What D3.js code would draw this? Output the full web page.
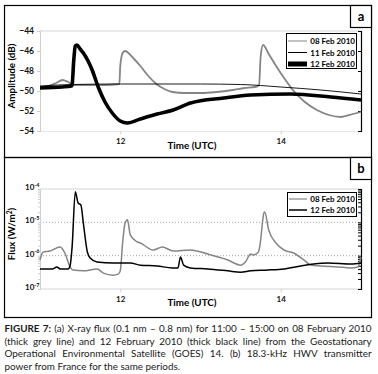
<!DOCTYPE html>
<html><head><meta charset="utf-8">
<script src="https://cdn.jsdelivr.net/npm/d3@7"></script>
<style>
html,body{margin:0;padding:0;background:#fff;}
svg{display:block;font-family:Lato,"Liberation Sans",sans-serif;}
</style></head>
<body>
<svg id="c" width="378" height="374"></svg>
<script>
// ---------- DATA ----------
// Panel (a): amplitude (dB)
const tA08 = [11.00,11.10,11.20,11.28,11.35,11.42,11.60,11.80,11.99,12.00,12.03,12.06,12.15,12.25,12.35,12.45,12.55,12.65,12.80,13.00,13.20,13.40,13.55,13.68,13.73,13.75,13.78,13.85,13.95,14.05,14.15,14.30,14.45,14.60,14.75,14.90,15.00];
const vA08 = [-49.6,-49.5,-49.2,-48.9,-49.1,-49.4,-49.4,-49.4,-49.3,-47.5,-46.2,-46.0,-46.6,-47.5,-48.5,-49.3,-49.8,-50.1,-50.2,-50.2,-50.1,-49.9,-49.7,-49.6,-49.4,-46.5,-45.4,-46.3,-47.6,-48.8,-49.9,-51.1,-51.9,-52.4,-52.6,-52.3,-52.1];
const tA11 = [11.00,11.40,12.00,13.00,13.50,14.00,14.50,15.00];
const vA11 = [-49.5,-49.35,-49.3,-49.3,-49.35,-49.6,-49.9,-50.3];
const tA12 = [11.00,11.275,11.39,11.40,11.42,11.44,11.46,11.50,11.54,11.65,11.725,11.81,11.90,12.00,12.09,12.25,12.46,12.66,12.875,13.29,13.625,14.125,14.625,15.00];
const vA12 = [-49.7,-49.6,-49.5,-49.4,-47.0,-45.5,-45.4,-45.8,-46.2,-47.9,-49.6,-51.1,-52.2,-53.0,-53.2,-52.8,-52.3,-51.9,-51.2,-50.7,-50.4,-50.3,-50.6,-50.9];
const ticksAY = [-54,-52,-50,-48,-46,-44];
const ticksX = [12,14];
const legendA = ["08 Feb 2010","11 Feb 2010","12 Feb 2010"];

// Panel (b): X-ray flux (W/m^2)
const tB08 = [11.00,11.04,11.125,11.25,11.31,11.375,11.41,11.54,11.71,11.79,11.91,11.975,12.00,12.03,12.06,12.09,12.125,12.21,12.25,12.41,12.525,12.66,12.875,13.09,13.34,13.50,13.56,13.625,13.66,13.72,13.74,13.79,13.80,13.85,13.94,14.04,14.16,14.29,14.375,14.50,14.71,14.875,14.96,15.00];
const vB08 = [7.4e-7,1.29e-6,1.38e-6,1.82e-6,1.2e-6,4.6e-7,3.7e-7,3.5e-7,4.0e-7,3.0e-7,2.6e-7,2.8e-7,3.5e-7,2.5e-6,9.5e-6,1.2e-5,4.2e-6,2.6e-6,2.4e-6,1.48e-6,1.82e-6,1.38e-6,1.48e-6,1.12e-6,7.4e-7,5.2e-7,6.5e-7,1.12e-6,1.05e-6,1.26e-6,2.0e-6,1.9e-5,2.04e-5,5.9e-6,2.4e-6,1.48e-6,1.2e-6,7.4e-7,5.2e-7,4.9e-7,4.6e-7,4.3e-7,4.6e-7,9.1e-7];
const tB12 = [11.00,11.16,11.21,11.25,11.35,11.375,11.40,11.44,11.475,11.51,11.54,11.59,11.625,11.71,11.91,12.125,12.25,12.46,12.65,12.72,12.75,12.79,12.875,13.09,13.34,13.50,13.625,13.84,14.04,14.25,14.41,14.59,14.875,15.00];
const vB12 = [4.0e-7,4.0e-7,4.6e-7,4.0e-7,4.0e-7,5.0e-7,1.8e-6,8.3e-5,3.8e-5,3.3e-5,9.5e-6,1.29e-6,8.5e-7,6.5e-7,6.0e-7,6.0e-7,5.2e-7,4.9e-7,4.3e-7,4.3e-7,9.1e-7,5.2e-7,4.3e-7,4.0e-7,3.5e-7,3.2e-7,3.5e-7,3.7e-7,4.0e-7,4.9e-7,5.6e-7,6.0e-7,5.6e-7,6.0e-7];
const ticksBY = [1e-7,1e-6,1e-5,1e-4];
const tickBExp = ["-7","-6","-5","-4"];
const legendB = ["08 Feb 2010","12 Feb 2010"];

const captionLines = [
  ["FIGURE 7:", " (a) X-ray flux (0.1 nm \u2013 0.8 nm) for 11:00 \u2013 15:00 on 08 February 2010"],
  ["", "(thick grey line) and 12 February 2010 (thick black line) from the Geostationary"],
  ["", "Operational Environmental Satellite (GOES) 14. (b) 18.3-kHz HWV transmitter"],
  ["", "power from France for the same periods."]
];

// ---------- DRAW ----------
const svg = d3.select("#c");
const GRAY = "#858585";
const x = d3.scaleLinear().domain([11,15]).range([40,361]);
const ya = d3.scaleLinear().domain([-54,-44]).range([131,31]);
const yb = d3.scaleLog().domain([1e-7,1e-4]).range([289,189]);

// panel frames
svg.append("rect").attr("x",4.5).attr("y",5.5).attr("width",367).attr("height",152).attr("fill","none").attr("stroke","#000").attr("stroke-width",1.2);
svg.append("rect").attr("x",4.5).attr("y",157.5).attr("width",367).attr("height",160).attr("fill","none").attr("stroke","#000").attr("stroke-width",1.2);

function labelBox(y0,h,txt){
  svg.append("rect").attr("x",350.5).attr("y",y0).attr("width",21).attr("height",h).attr("fill","#fff").attr("stroke","#000").attr("stroke-width",1.2);
  svg.append("text").attr("x",361).attr("y",y0+h/2+4.5).attr("text-anchor","middle").attr("font-weight","bold").attr("font-size",13).text(txt);
}

// ----- Panel a -----
const ga = svg.append("g");
ga.append("line").attr("x1",40).attr("x2",361).attr("y1",ya(-44)).attr("y2",ya(-44)).attr("stroke","#d4d4d4");
ga.append("line").attr("x1",40).attr("x2",361).attr("y1",ya(-54)+0.5).attr("y2",ya(-54)+0.5).attr("stroke","#e6e6e6");
// left axis
const axA = ga.append("g").attr("transform","translate(40,0)").call(d3.axisLeft(ya).tickValues(ticksAY).tickSize(3).tickFormat(d3.format("d")));
axA.select(".domain").attr("stroke","#cfcfcf");
axA.selectAll(".tick line").attr("stroke","#cfcfcf");
axA.selectAll("text").attr("font-family","Lato").attr("font-weight","bold").attr("font-size",8.5).attr("fill","#111").attr("x",-6).text(d=>d3.format("d")(d).replace("-","-"));
// right axis
const axA2 = ga.append("g").attr("transform","translate(361,0)").call(d3.axisLeft(ya).tickValues(ticksAY).tickSize(3).tickFormat(""));
axA2.select(".domain").attr("stroke","#000").attr("stroke-width",1.2);
axA2.selectAll(".tick line").attr("stroke","#000");
// bottom axis
const axAx = ga.append("g").attr("transform",`translate(0,${ya(-54)})`).call(d3.axisBottom(x).tickValues(ticksX).tickSize(3).tickFormat(d3.format("d")));
axAx.select(".domain").remove();
axAx.selectAll(".tick line").attr("stroke","#cfcfcf");
axAx.selectAll("text").attr("font-family","Lato").attr("font-weight","bold").attr("font-size",8).attr("fill","#111").attr("dy","0.9em");
ga.append("text").attr("x",192).attr("y",149).attr("text-anchor","middle").attr("font-weight","bold").attr("font-size",9.8).text("Time (UTC)");
ga.append("text").attr("transform","translate(15,76) rotate(-90)").attr("text-anchor","middle").attr("font-weight","bold").attr("font-size",9.8).text("Amplitude (dB)");

const lineA = (ts,vs)=>d3.line().x((d,i)=>x(ts[i])).y((d,i)=>ya(vs[i])).curve(d3.curveMonotoneX)(vs);
ga.append("path").attr("d",lineA(tA08,vA08)).attr("fill","none").attr("stroke",GRAY).attr("stroke-width",1.8);
ga.append("path").attr("d",lineA(tA11,vA11)).attr("fill","none").attr("stroke","#000").attr("stroke-width",0.9);
ga.append("path").attr("d",lineA(tA12,vA12)).attr("fill","none").attr("stroke","#000").attr("stroke-width",3.6);

// legend a
const lgA = ga.append("g");
lgA.append("rect").attr("x",286.5).attr("y",33.5).attr("width",70).attr("height",35).attr("fill","#fff").attr("stroke","#000");
const lgAStyles = [[GRAY,1],["#000",1],["#000",5]];
legendA.forEach((s,i)=>{
  const yy = 41 + i*11.5;
  lgA.append("line").attr("x1",288).attr("x2",307).attr("y1",yy).attr("y2",yy).attr("stroke",lgAStyles[i][0]).attr("stroke-width",lgAStyles[i][1]);
  lgA.append("text").attr("x",355).attr("y",yy+3).attr("text-anchor","end").attr("font-weight","bold").attr("font-size",8).text(s);
});
labelBox(5.5,22,"a");

// ----- Panel b -----
const gb = svg.append("g");
gb.append("line").attr("x1",40).attr("x2",361).attr("y1",yb(1e-4)).attr("y2",yb(1e-4)).attr("stroke","#d4d4d4");
gb.append("line").attr("x1",40).attr("x2",361).attr("y1",yb(1e-7)).attr("y2",yb(1e-7)).attr("stroke","#d4d4d4");
[1e-5,1e-6].forEach(v=>{
  gb.append("line").attr("x1",40).attr("x2",361).attr("y1",yb(v)).attr("y2",yb(v)).attr("stroke","#a8a8a8").attr("stroke-dasharray","1,2");
});
const minor = yb.ticks();
const axB = gb.append("g").attr("transform","translate(40,0)").call(d3.axisLeft(yb).tickValues(minor).tickSize(2).tickFormat(""));
axB.select(".domain").attr("stroke","#cfcfcf");
axB.selectAll(".tick line").attr("stroke","#cfcfcf");
const axB2 = gb.append("g").attr("transform","translate(361,0)").call(d3.axisLeft(yb).tickValues(minor).tickSize(3).tickFormat(""));
axB2.select(".domain").attr("stroke","#000").attr("stroke-width",1.2);
axB2.selectAll(".tick line").attr("stroke","#000");
ticksBY.forEach((v,i)=>{
  const t = gb.append("text").attr("x",25).attr("y",yb(v)+1).attr("font-weight","bold").attr("font-size",8).attr("fill","#111");
  t.append("tspan").text("10");
  t.append("tspan").attr("dy",-3.5).attr("font-size",5.5).text(tickBExp[i]);
});
const axBx = gb.append("g").attr("transform",`translate(0,${yb(1e-7)})`).call(d3.axisBottom(x).tickValues(ticksX).tickSize(3).tickFormat(d3.format("d")));
axBx.select(".domain").remove();
axBx.selectAll(".tick line").attr("stroke","#cfcfcf");
axBx.selectAll("text").attr("font-family","Lato").attr("font-weight","bold").attr("font-size",8).attr("fill","#111").attr("dy","0.9em");
gb.append("text").attr("x",192).attr("y",306).attr("text-anchor","middle").attr("font-weight","bold").attr("font-size",9.8).text("Time (UTC)");
const fl = gb.append("text").attr("transform","translate(15,234) rotate(-90)").attr("text-anchor","middle").attr("font-weight","bold").attr("font-size",9.8);
fl.append("tspan").text("Flux (W/m");
fl.append("tspan").attr("dy",-3).attr("font-size",6.5).text("2");
fl.append("tspan").attr("dy",3).text(")");

const lineB = (ts,vs)=>d3.line().x((d,i)=>x(ts[i])).y((d,i)=>yb(vs[i])).curve(d3.curveMonotoneX)(vs);
gb.append("path").attr("d",lineB(tB08,vB08)).attr("fill","none").attr("stroke",GRAY).attr("stroke-width",1.5);
gb.append("path").attr("d",lineB(tB12,vB12)).attr("fill","none").attr("stroke","#000").attr("stroke-width",1.5);

const lgB = gb.append("g");
lgB.append("rect").attr("x",287.5).attr("y",192.5).attr("width",69).attr("height",24).attr("fill","#fff").attr("stroke","#000");
const lgBStyles = [[GRAY,1.2],["#000",1.5]];
legendB.forEach((s,i)=>{
  const yy = 199 + i*11;
  lgB.append("line").attr("x1",289).attr("x2",307).attr("y1",yy).attr("y2",yy).attr("stroke",lgBStyles[i][0]).attr("stroke-width",lgBStyles[i][1]);
  lgB.append("text").attr("x",355).attr("y",yy+3).attr("text-anchor","end").attr("font-weight","bold").attr("font-size",8).text(s);
});
labelBox(157.5,22,"b");

// ----- Caption -----
const capW = 367, capX = 4.5;
captionLines.forEach((ln,i)=>{
  const t = svg.append("text").attr("x",capX).attr("y",332+i*12.6).attr("font-size",9.9).attr("fill","#1a1a1a");
  if(ln[0]) t.append("tspan").attr("font-weight","bold").text(ln[0]);
  t.append("tspan").text(ln[1]);
  if(i<captionLines.length-1){
    const w = t.node().getComputedTextLength();
    const full = ln[0]+ln[1];
    const spaces = (full.match(/ /g)||[]).length;
    if(w<capW){ t.attr("word-spacing",(capW-w)/spaces); }
    else { t.attr("textLength",capW).attr("lengthAdjust","spacingAndGlyphs"); }
  }
});
</script>
</body></html>
